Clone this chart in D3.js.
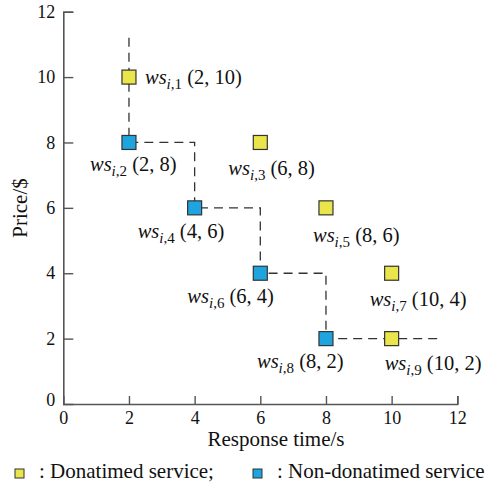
<!DOCTYPE html>
<html><head><meta charset="utf-8">
<script src="https://cdn.jsdelivr.net/npm/d3@7"></script>
<style>body{margin:0;background:#fff}svg{display:block}</style>
</head><body>
<script>
// data
const serviceIds = [1, 2, 3, 4, 5, 6, 7, 8, 9];
const responseTimes = [2, 2, 6, 4, 8, 6, 10, 8, 10];
const prices = [10, 8, 8, 6, 6, 4, 4, 2, 2];
const serviceTypes = ["D", "N", "D", "N", "D", "N", "D", "N", "D"]; // D: donatimed, N: non-donatimed
const frontierX = [2, 2, 4, 4, 6, 6, 8, 8, 11.5];
const frontierY = [11.2, 8, 8, 6, 6, 4, 4, 2, 2];
const xTicks = [0, 2, 4, 6, 8, 10, 12];
const yTicks = [0, 2, 4, 6, 8, 10, 12];
const legendLabels = [": Donatimed service;", ": Non-donatimed service"];

// layout (label offsets in px relative to point)
const labelOffsets = [[16, 7], [-39, 29], [-32, 33], [-57, 30], [-13, 34], [-73, 30], [-22, 33], [-69, 29], [-7, 31]];
const colors = {D: "#e9e54b", N: "#1ea5e0"};
const FONT = "'Liberation Serif', Tinos, 'Times New Roman', Times, 'DejaVu Serif', serif";

const W = 488, H = 490;
const svg = d3.select("body").append("svg").attr("width", W).attr("height", H)
  .style("font-family", FONT);
const x = d3.scaleLinear().domain([0, 12]).range([63.3, 457.3]);
const y = d3.scaleLinear().domain([0, 12]).range([404, 11.7]);

const axisColor = "#555";
const gx = svg.append("g").attr("transform", `translate(0,${y(0)})`)
  .call(d3.axisBottom(x).tickValues(xTicks).tickSize(-8).tickPadding(6).tickFormat(d3.format("d")));
const gy = svg.append("g").attr("transform", `translate(${x(0)},0)`)
  .call(d3.axisLeft(y).tickValues(yTicks).tickSize(-10).tickPadding(8).tickFormat(d3.format("d")));
[gx, gy].forEach(g => {
  g.attr("font-family", null).attr("font-size", null);
  g.select(".domain").attr("stroke", axisColor).attr("stroke-width", 1.6);
  g.selectAll(".tick line").attr("stroke", axisColor).attr("stroke-width", 1.4);
  g.selectAll(".tick text").style("font-family", FONT).style("font-size", "18px").attr("fill", "#111");
});
gx.selectAll(".tick text").attr("dy", "0.8em");
gy.selectAll(".tick").filter(d => d === 0).select("line").remove();
gx.selectAll(".tick").filter(d => d === 0).select("line").remove();
gy.selectAll(".tick").filter(d => d === 0).select("text").attr("dy", "0.1em");

// axis titles
svg.append("text").attr("x", 276).attr("y", 446).attr("text-anchor", "middle").style("font-size", "21px").attr("fill", "#111").text("Response time/s");
svg.append("text").attr("transform", `translate(27,${208}) rotate(-90)`).attr("text-anchor", "middle").style("font-size", "21px").attr("fill", "#111").text("Price/$");

// frontier dashed line
const pts = frontierX.map((d, i) => [d, frontierY[i]]);
svg.append("path").attr("d", d3.line().x(d => x(d[0])).y(d => y(d[1]))(pts))
  .attr("fill", "none").attr("stroke", "#333").attr("stroke-width", 1.3).attr("stroke-dasharray", "9,6");

// points
const S = 14;
serviceIds.forEach((id, i) => {
  svg.append("rect").attr("x", x(responseTimes[i]) - S / 2).attr("y", y(prices[i]) - S / 2)
    .attr("width", S).attr("height", S).attr("fill", colors[serviceTypes[i]])
    .attr("stroke", "#333").attr("stroke-width", 1.2);
});

// labels
serviceIds.forEach((id, i) => {
  const t = svg.append("text").attr("x", x(responseTimes[i]) + labelOffsets[i][0])
    .attr("y", y(prices[i]) + labelOffsets[i][1]).style("font-size", "20.5px").attr("fill", "#111");
  t.append("tspan").style("font-style", "italic").text("ws");
  t.append("tspan").attr("dy", 5).style("font-size", "15px").style("font-style", "italic").text("i");
  t.append("tspan").style("font-size", "15px").text("," + id);
  t.append("tspan").attr("dy", -5).text(" (" + responseTimes[i] + ", " + prices[i] + ")");
});

// legend
const legendX = [15, 253];
["D", "N"].forEach((k, i) => {
  svg.append("rect").attr("x", legendX[i]).attr("y", 469).attr("width", 9).attr("height", 9)
    .attr("fill", colors[k]).attr("stroke", "#333").attr("stroke-width", 1);
  svg.append("text").attr("x", legendX[i] + 24).attr("y", 478).style("font-size", "21px").attr("fill", "#111").text(legendLabels[i]);
});
</script>
</body></html>
